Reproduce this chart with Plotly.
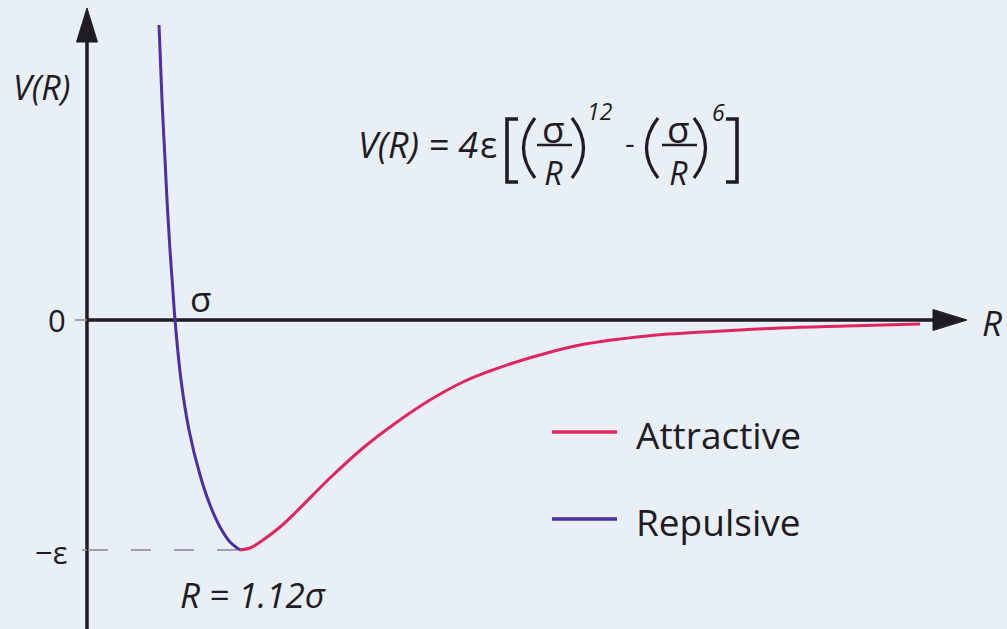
import plotly.graph_objects as go

# Lennard-Jones potential, R in units of sigma, V in units of epsilon
R_repulsive = [0.97048, 0.97601, 0.98063, 0.98524, 0.99077, 0.99539, 1.00000, 1.01107,
               1.02583, 1.04613, 1.06458, 1.08303, 1.10148, 1.12000]
V_repulsive = [1.28261, 0.95652, 0.73913, 0.52174, 0.30435, 0.15217, 0.00000, -0.26087,
               -0.47826, -0.67391, -0.80435, -0.90000, -0.96522, -1.00000]

R_attractive = [1.12000, 1.13838, 1.16236, 1.19373, 1.22509, 1.28598, 1.34686, 1.40959,
                1.47048, 1.53137, 1.58118, 1.62362, 1.68635, 1.74723, 1.87085, 1.99262,
                2.11624, 2.23985, 2.37454]
V_attractive = [-1.00000, -0.99130, -0.95652, -0.90000, -0.83043, -0.68696, -0.55652, -0.44348,
                -0.34783, -0.26957, -0.22174, -0.18696, -0.14348, -0.10870, -0.06957, -0.05000,
                -0.03478, -0.02609, -0.01739]

R_MIN = 1.12        # position of the well minimum (R = 1.12 sigma)
V_MIN = -1.0        # well depth (-epsilon)
R_AXIS = 0.8376     # where the V(R) axis is drawn

series_names = ["Attractive", "Repulsive"]

W, H = 1007, 629
X_RANGE = [0.6771, 2.5351]
Y_RANGE = [-1.3435, 1.3913]

BG = "#e8eff7"
INK = "#1f1c24"
RED = "#e0265c"
PURPLE = "#4b2fa3"
FONT = "Open Sans"


def dx(px):
    """horizontal pixel -> R"""
    return X_RANGE[0] + px / W * (X_RANGE[1] - X_RANGE[0])


def dy(py):
    """vertical pixel (from top) -> V"""
    return Y_RANGE[1] - py / H * (Y_RANGE[1] - Y_RANGE[0])


def px_w(n):
    return n / W * (X_RANGE[1] - X_RANGE[0])


def px_h(n):
    return n / H * (Y_RANGE[1] - Y_RANGE[0])


def pxp(x):
    return x / W


def pyp(y):
    return 1 - y / H


fig = go.Figure()
fig.add_trace(go.Scatter(x=R_repulsive, y=V_repulsive, mode="lines",
                         line=dict(color=PURPLE, width=3, shape="spline", smoothing=1.0),
                         name=series_names[1], showlegend=False, hoverinfo="skip"))
fig.add_trace(go.Scatter(x=R_attractive, y=V_attractive, mode="lines",
                         line=dict(color=RED, width=3, shape="spline", smoothing=1.0),
                         name=series_names[0], showlegend=False, hoverinfo="skip"))

shapes = []
# axes
shapes.append(dict(type="line", xref="x", yref="y", x0=R_AXIS, x1=R_AXIS,
                   y0=Y_RANGE[0] - 0.1, y1=dy(40), line=dict(color=INK, width=3.5), layer="below"))
shapes.append(dict(type="path", xref="x", yref="y", layer="below",
                   path=f"M {R_AXIS - px_w(10.5)},{dy(42)} L {R_AXIS},{dy(8)} L {R_AXIS + px_w(10.5)},{dy(42)} Z",
                   fillcolor=INK, line=dict(color=INK, width=1)))
x_base = dx(933)
shapes.append(dict(type="line", xref="x", yref="y", x0=R_AXIS, x1=x_base + px_w(2),
                   y0=0, y1=0, line=dict(color=INK, width=3.5), layer="below"))
shapes.append(dict(type="path", xref="x", yref="y", layer="below",
                   path=f"M {x_base},{px_h(10.5)} L {dx(967)},0 L {x_base},{-px_h(10.5)} Z",
                   fillcolor=INK, line=dict(color=INK, width=1)))
# ticks
shapes.append(dict(type="line", xref="x", yref="y", x0=R_AXIS - px_w(12), x1=R_AXIS,
                   y0=0, y1=0, line=dict(color="#8c8a99", width=1.5), layer="below"))
shapes.append(dict(type="line", xref="x", yref="y", x0=R_AXIS - px_w(5), x1=R_AXIS,
                   y0=V_MIN, y1=V_MIN, line=dict(color="#8c8a99", width=1.5), layer="below"))
# dashed guide to the minimum
shapes.append(dict(type="line", xref="x", yref="y", x0=R_AXIS + px_w(1), x1=R_MIN,
                   y0=V_MIN, y1=V_MIN, line=dict(color="#8a87a0", width=1.5, dash="20px,23px"),
                   layer="below"))
# legend swatches
shapes.append(dict(type="line", xref="paper", yref="paper", x0=pxp(552), x1=pxp(617),
                   y0=pyp(432), y1=pyp(432), line=dict(color=RED, width=3.5)))
shapes.append(dict(type="line", xref="paper", yref="paper", x0=pxp(552), x1=pxp(617),
                   y0=pyp(519), y1=pyp(519), line=dict(color=PURPLE, width=3.5)))


# formula brackets, parentheses and fraction bars
def stroke(path, width=3.2):
    shapes.append(dict(type="path", xref="paper", yref="paper", path=path,
                       line=dict(color=INK, width=width)))


def bracket(x_out, x_in, y0, y1):
    stroke(f"M {pxp(x_in)},{pyp(y0)} L {pxp(x_out)},{pyp(y0)} L {pxp(x_out)},{pyp(y1)} L {pxp(x_in)},{pyp(y1)}", 3.6)


def paren(x_tip, x_bulge, y0, y1):
    ym = (y0 + y1) / 2
    stroke(f"M {pxp(x_tip)},{pyp(y0)} Q {pxp(x_bulge)},{pyp(ym)} {pxp(x_tip)},{pyp(y1)}", 3.2)


bracket(507, 518, 119, 182)
bracket(737, 726, 119, 182)
paren(535, 512, 118, 178)
paren(572, 595, 118, 178)
paren(658, 635, 118, 178)
paren(694, 717, 118, 178)
for xa, xb in [(537, 572), (662, 697)]:
    shapes.append(dict(type="line", xref="paper", yref="paper", x0=pxp(xa), x1=pxp(xb),
                       y0=pyp(145), y1=pyp(145), line=dict(color=INK, width=2.4)))

annotations = []


def label(text, x, y, size=34, anchor="center", italic=False):
    annotations.append(dict(text=text, xref="paper", yref="paper", x=pxp(x), y=pyp(y),
                            xanchor=anchor, yanchor="middle", showarrow=False,
                            font=dict(family=FONT, size=size, color=INK,
                                      style="italic" if italic else "normal")))


label("V(R)", 42, 87, 34, italic=True)
label("0", 57, 320, 31)
label("σ", 200, 298, 35)
label("\u2212ε", 51, 552, 31)
label("R = 1.12σ", 253, 594, 35, italic=True)
label("R", 992, 322, 35, italic=True)
label("Attractive", 634, 434, 37, anchor="left")
label("Repulsive", 634, 521, 37, anchor="left")

# formula text; each fraction is one two-line label (σ over R)
label("V(R) = 4", 356, 144, 36, anchor="left", italic=True)
label("ε", 478, 144, 36, anchor="left")
frac_text = "<span style='font-size:37px'>σ</span><br><i>R</i>"
label(frac_text, 553, 148, 32)
label(frac_text, 678, 148, 32)
label("12", 600, 111, 23, italic=True)
label("-", 630, 142, 30)
label("6", 718, 112, 23, italic=True)

fig.update_layout(
    width=W, height=H,
    margin=dict(l=0, r=0, t=0, b=0),
    paper_bgcolor=BG, plot_bgcolor=BG,
    xaxis=dict(range=X_RANGE, visible=False, fixedrange=True),
    yaxis=dict(range=Y_RANGE, visible=False, fixedrange=True),
    shapes=shapes, annotations=annotations,
    showlegend=False,
)

fig.write_html("out.html")
